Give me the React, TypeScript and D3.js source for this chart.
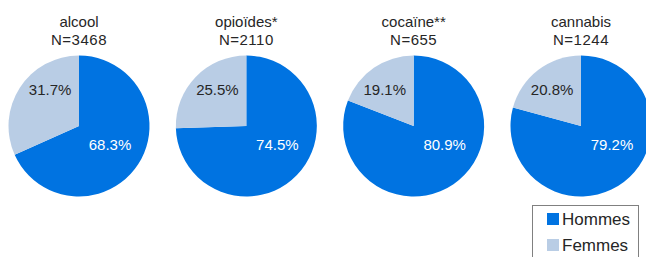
import React from "react";
import * as d3 from "d3";

const categories = ["alcool", "opioïdes*", "cocaïne**", "cannabis"];
const totals = ["N=3468", "N=2110", "N=655", "N=1244"];
const hommes = [68.3, 74.5, 80.9, 79.2];
const femmes = [31.7, 25.5, 19.1, 20.8];
const seriesNames = ["Hommes", "Femmes"];

const W = 646;
const H = 257;
const COLORS = ["#0073E1", "#B9CDE5"];
const TEXT_COLORS = ["#FFFFFF", "#262626"];
const FONT = "'Liberation Sans', Arial, sans-serif";

export default function App() {
  const R = 70.5;
  const cy = 126;
  const x = d3.scalePoint<string>().domain(categories).range([79, 581]);
  const color = d3.scaleOrdinal<string, string>().domain(seriesNames).range(COLORS);
  const pie = d3
    .pie<{ name: string; value: number }>()
    .sort(null)
    .value((d) => d.value);
  const arc = d3
    .arc<d3.PieArcDatum<{ name: string; value: number }>>()
    .innerRadius(0)
    .outerRadius(R);
  // label offsets relative to radius (best-fit style placement)
  const labelOffset = [
    [0.44, 0.26],
    [-0.41, -0.52],
  ];

  return (
    <svg
      width={W}
      height={H}
      style={{ position: "absolute", left: 0, top: 0, background: "#fff" }}
      fontFamily={FONT}
    >
      {categories.map((c, i) => {
        const data = [
          { name: seriesNames[0], value: hommes[i] },
          { name: seriesNames[1], value: femmes[i] },
        ];
        const arcs = pie(data);
        const cx = x(c)!;
        return (
          <g key={c}>
            <text x={cx} y={27} textAnchor="middle" fontSize={15} fill="#262626">
              {c}
            </text>
            <text x={cx} y={45} textAnchor="middle" fontSize={15} fill="#262626" letterSpacing={0.5}>
              {totals[i]}
            </text>
            <g transform={`translate(${cx},${cy})`}>
              {arcs.map((a) => (
                <path key={a.data.name} d={arc(a)!} fill={color(a.data.name)} />
              ))}
              {arcs.map((a, j) => (
                <text
                  key={"l" + a.data.name}
                  x={labelOffset[j][0] * R}
                  y={labelOffset[j][1] * R}
                  textAnchor="middle"
                  dominantBaseline="central"
                  fontSize={15}
                  fill={TEXT_COLORS[j]}
                >
                  {a.data.value.toFixed(1) + "%"}
                </text>
              ))}
            </g>
          </g>
        );
      })}
      <g>
        <rect x={532.5} y={205.5} width={106} height={60} fill="#fff" stroke="#808080" strokeWidth={1} />
        {seriesNames.map((s, i) => (
          <g key={s} transform={`translate(547,${213 + i * 26})`}>
            <rect x={0} y={0} width={12} height={12} fill={color(s)} />
            <text x={15} y={12} fontSize={17} fill="#262626">
              {s}
            </text>
          </g>
        ))}
      </g>
    </svg>
  );
}
